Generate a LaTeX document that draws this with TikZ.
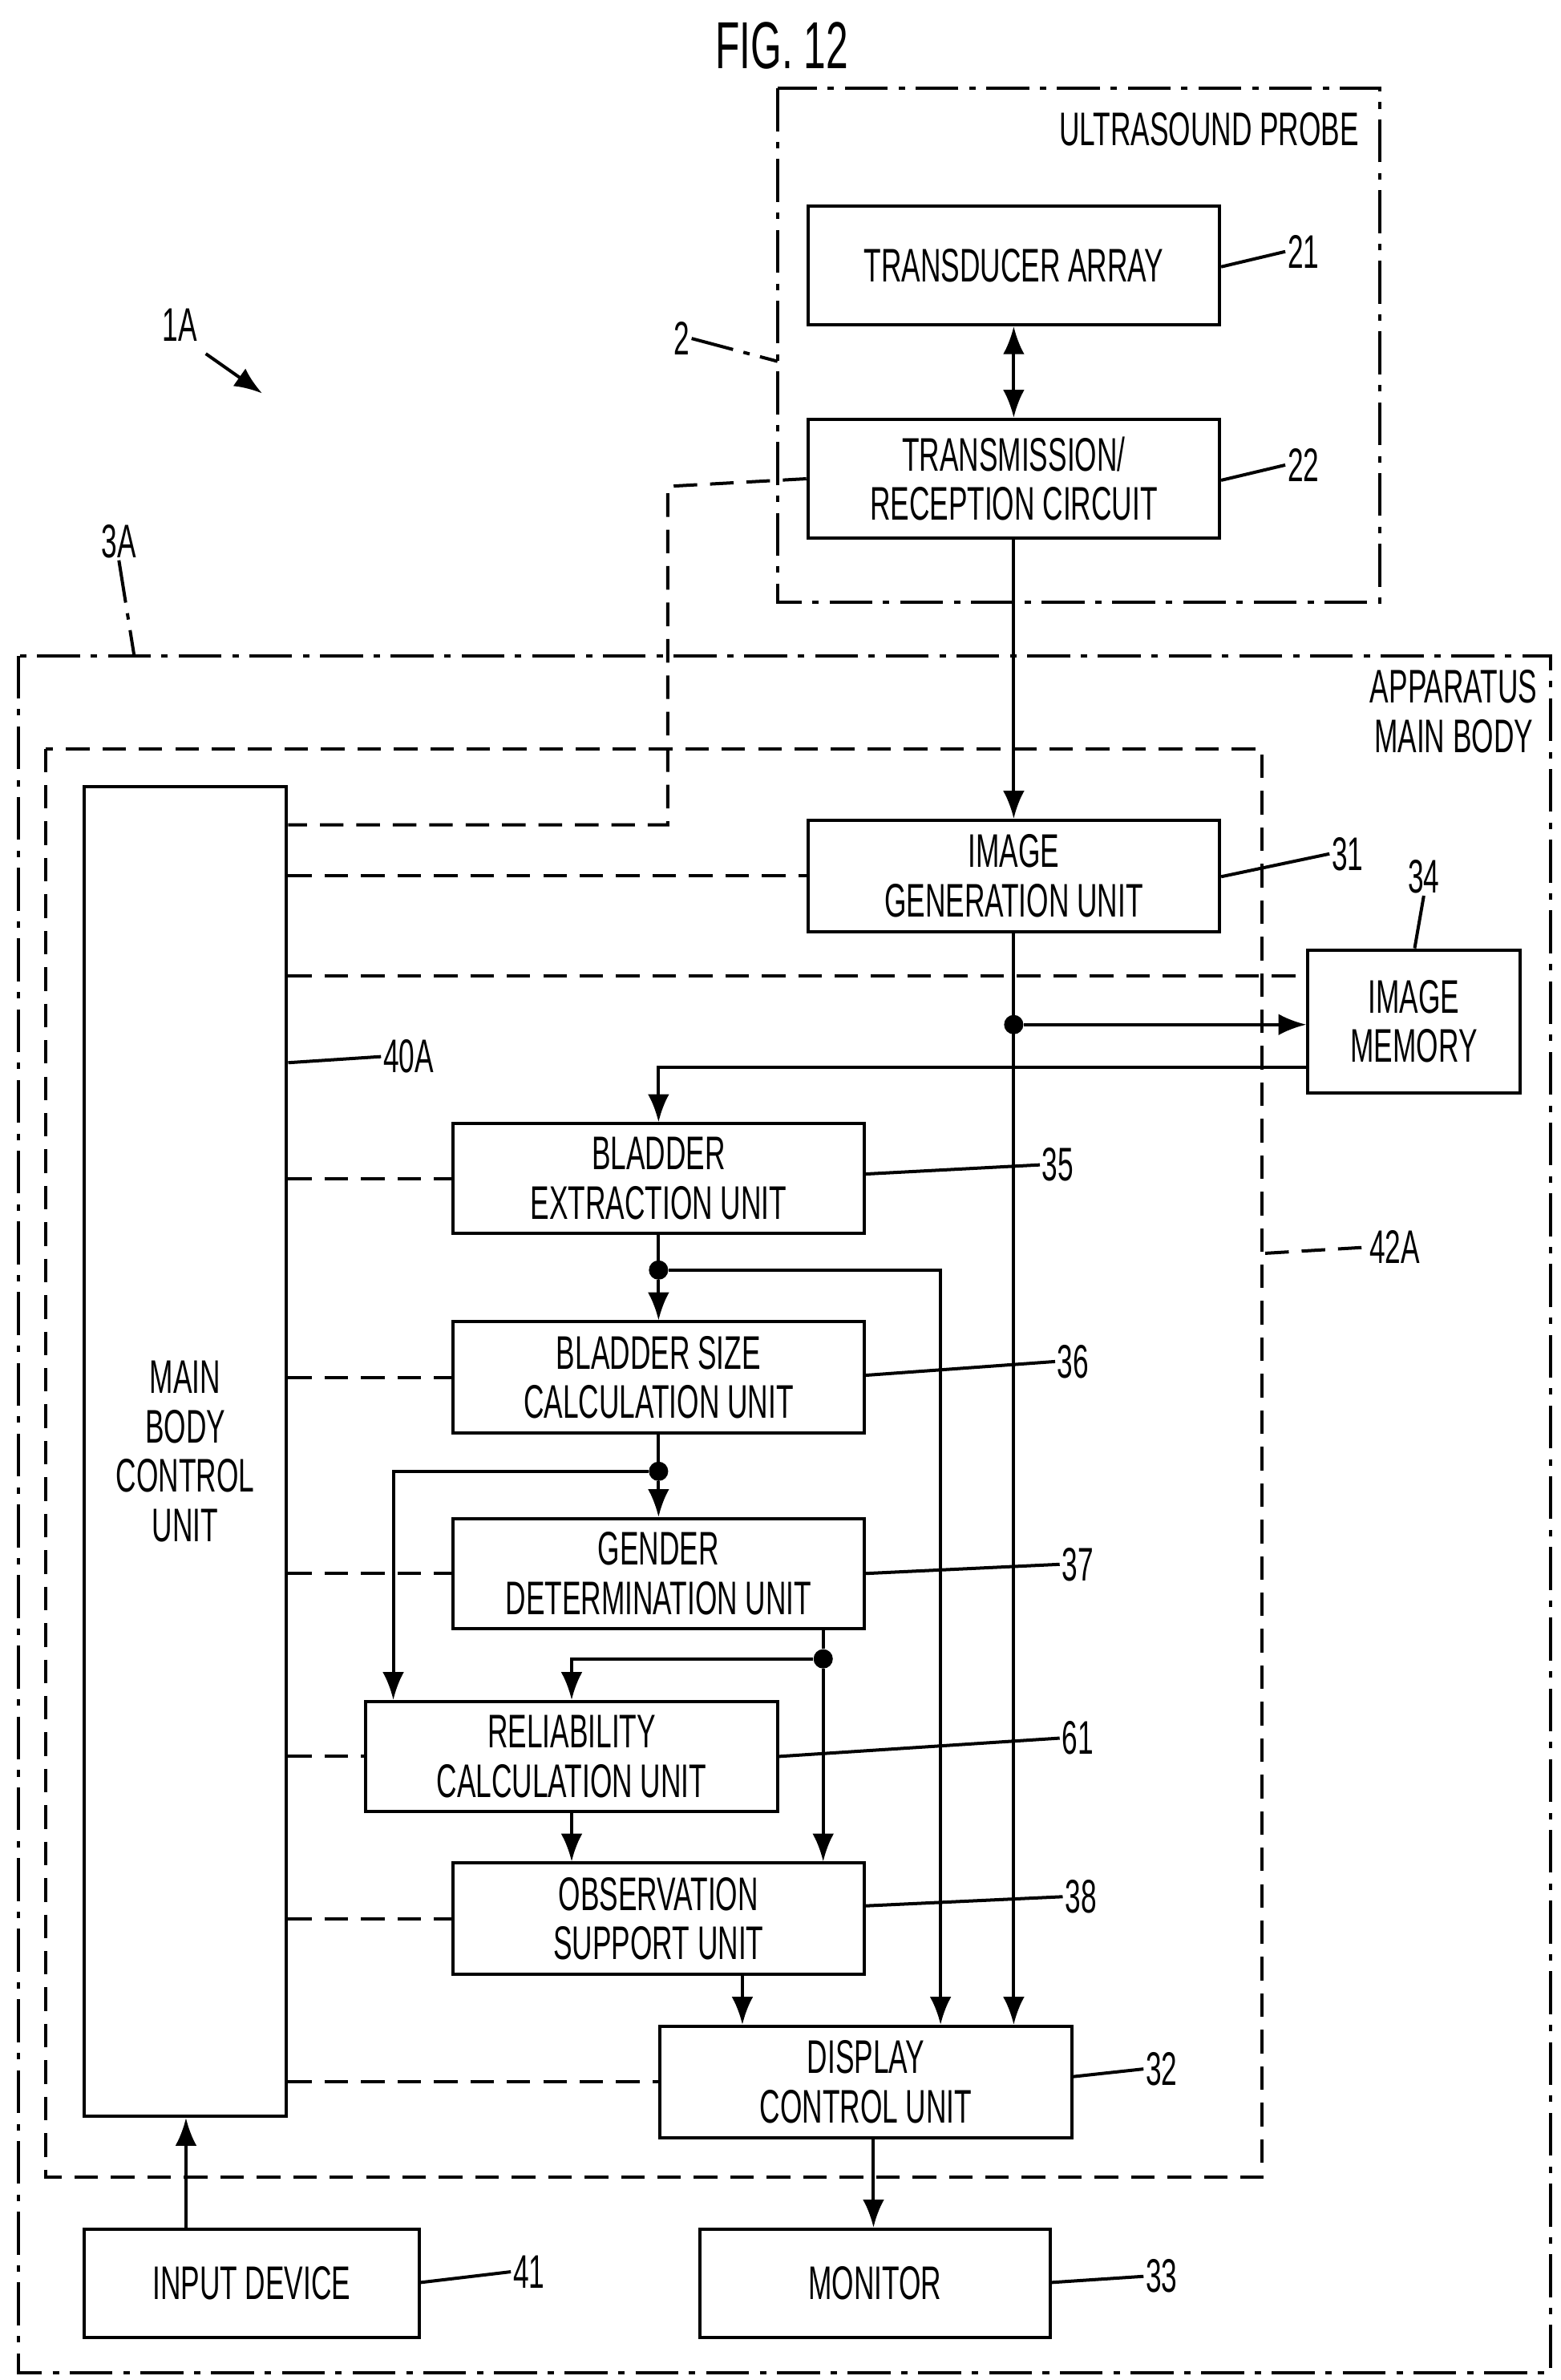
\documentclass[tikz,border=0pt]{standalone}
\usepackage{fontspec}
\setmainfont{Liberation Sans}[FakeStretch=0.6]
\usetikzlibrary{arrows.meta,calc}
\newcommand\bx[6]{\node[box,minimum width={(#4-#2)*0.05cm},minimum height={(#5-#3)*0.05cm}] (#1) at ({(#2+#4)/2},{-(#3+#5)/2}) {#6};}
\begin{document}
\begin{tikzpicture}[x=0.05cm,y=0.05cm,
  box/.style={draw,line width=3pt,align=center,inner sep=0pt,font=\fontsize{44}{46}\selectfont},
  lbl/.style={font=\fontsize{44}{46}\selectfont,inner sep=2pt},
  ln/.style={line width=3pt},
  arr/.style={line width=3pt,-{Latex[length=26pt,width=20pt]}},
  dd/.style={line width=3pt,dash pattern=on 40pt off 10pt on 6pt off 10pt},
  ds/.style={line width=3pt,dash pattern=on 22pt off 12pt},
  dot/.style={circle,fill,inner sep=0pt,minimum size=18pt}]
\useasboundingbox (0,0) rectangle (1024,-1561);
\node[font=\fontsize{62}{64}\selectfont] (title) at (513,-30) {FIG. 12};
% frames
\draw[dd] (510,-58) rectangle (905,-395);
\node[lbl,anchor=east] (probe) at (893,-85) {ULTRASOUND PROBE};
\draw[dd] (12,-430) rectangle (1017,-1556);
\node[lbl,align=center,anchor=north east] (amb) at (1010,-438) {APPARATUS\\MAIN BODY};
\draw[ds] (30,-491) rectangle (828,-1428);
% boxes
\bx{ta}{530}{135}{800}{213}{TRANSDUCER ARRAY}
\bx{tr}{530}{275}{800}{353}{TRANSMISSION/\\RECEPTION CIRCUIT}
\bx{ctrl}{55}{516}{188}{1388}{MAIN\\BODY\\CONTROL\\UNIT}
\bx{ig}{530}{538}{800}{611}{IMAGE\\GENERATION UNIT}
\bx{mem}{858}{623}{997}{717}{IMAGE\\MEMORY}
\bx{be}{297}{737}{567}{809}{BLADDER\\EXTRACTION UNIT}
\bx{bs}{297}{867}{567}{940}{BLADDER SIZE\\CALCULATION UNIT}
\bx{gd}{297}{996}{567}{1068}{GENDER\\DETERMINATION UNIT}
\bx{rl}{240}{1116}{510}{1188}{RELIABILITY\\CALCULATION UNIT}
\bx{os}{297}{1222}{567}{1295}{OBSERVATION\\SUPPORT UNIT}
\bx{dc}{433}{1329}{703}{1402}{DISPLAY\\CONTROL UNIT}
\bx{in}{55}{1462}{275}{1533}{INPUT DEVICE}
\bx{mo}{459}{1462}{689}{1533}{MONITOR}
% reference labels
\node[lbl] (n21) at (855,-165) {21}; \draw[ln] (ta.east|-0,-175) -- (n21.west);
\node[lbl] (n22) at (855,-305) {22}; \draw[ln] (tr.east|-0,-315) -- (n22.west);
\node[lbl] (n2) at (447,-222) {2}; \draw[dd] (n2.east) -- (510,-237);
\node[lbl] (n1a) at (118,-213) {1A}; \coordinate (p1a) at (172,-258); \draw[arr] (135,-232) -- (p1a);
\node[lbl] (n3a) at (78,-355) {3A}; \draw[dd] (n3a.south) -- (88,-430);
\node[lbl] (n42) at (915,-818) {42A}; \draw[ds] (830,-822) -- (n42.west);
\node[lbl] (n40) at (268,-693) {40A}; \draw[ln] (ctrl.east|-0,-697) -- (n40.west);
\node[lbl] (n31) at (884,-560) {31}; \draw[ln] (ig.east|-0,-575) -- (n31.west);
\node[lbl] (n34) at (934,-575) {34}; \draw[ln] (n34.south) -- (mem.north-|928,0);
\node[lbl] (n35) at (694,-764) {35}; \draw[ln] (be.east|-0,-770) -- (n35.west);
\node[lbl] (n36) at (704,-893) {36}; \draw[ln] (bs.east|-0,-902) -- (n36.west);
\node[lbl] (n37) at (707,-1026) {37}; \draw[ln] (gd.east|-0,-1032) -- (n37.west);
\node[lbl] (n61) at (707,-1140) {61}; \draw[ln] (rl.east|-0,-1152) -- (n61.west);
\node[lbl] (n38) at (709,-1244) {38}; \draw[ln] (os.east|-0,-1250) -- (n38.west);
\node[lbl] (n32) at (762,-1357) {32}; \draw[ln] (dc.east|-0,-1362) -- (n32.west);
\node[lbl] (n41) at (347,-1490) {41}; \draw[ln] (in.east|-0,-1497) -- (n41.west);
\node[lbl] (n33) at (762,-1493) {33}; \draw[ln] (mo.east|-0,-1497) -- (n33.west);
% solid connectors
\draw[line width=3pt,{Latex[length=26pt,width=20pt]}-{Latex[length=26pt,width=20pt]}] (ta.south) -- (tr.north);
\draw[arr] (tr.south) -- (ig.north);
\node[dot] (d1) at (665,-672) {};
\draw[arr] (ig.south) -- (dc.north-|ig.south);
\draw[arr] (d1) -- (mem.west|-d1);
\draw[arr] (mem.west|-0,-700) -- (432,-700) -- (be.north);
\node[dot] (d2) at (432,-833) {};
\draw[ln] (be.south) -- (d2); \draw[arr] (d2) -- (bs.north);
\draw[arr] (d2) -- (617,-833) -- (dc.north-|617,0);
\node[dot] (d3) at (432,-965) {};
\draw[ln] (bs.south) -- (d3); \draw[arr] (d3) -- (gd.north);
\draw[arr] (d3) -- (258,-965) -- (rl.north-|258,0);
\node[dot] (d4) at (540,-1088) {};
\draw[ln] (gd.south-|d4) -- (d4); \draw[arr] (d4) -- (os.north-|d4);
\draw[arr] (d4) -- (375,-1088) -- (rl.north);
\draw[arr] (rl.south) -- (os.north-|rl.south);
\draw[arr] (os.south-|487,0) -- (dc.north-|487,0);
\draw[arr] (dc.south-|573,0) -- (mo.north-|573,0);
\draw[arr] (in.north-|122,0) -- (ctrl.south-|122,0);
% dashed control lines
\draw[ds] (tr.west) -- (438,-319) -- (438,-541) -- (ctrl.east|-0,-541);
\draw[ds] (ctrl.east|-ig.west) -- (ig.west);
\draw[ds] (ctrl.east|-0,-640) -- (mem.west|-0,-640);
\draw[ds] (ctrl.east|-be.west) -- (be.west);
\draw[ds] (ctrl.east|-bs.west) -- (bs.west);
\draw[ds] (ctrl.east|-gd.west) -- (gd.west);
\draw[ds] (ctrl.east|-rl.west) -- (rl.west);
\draw[ds] (ctrl.east|-os.west) -- (os.west);
\draw[ds] (ctrl.east|-dc.west) -- (dc.west);
\end{tikzpicture}
\end{document}
